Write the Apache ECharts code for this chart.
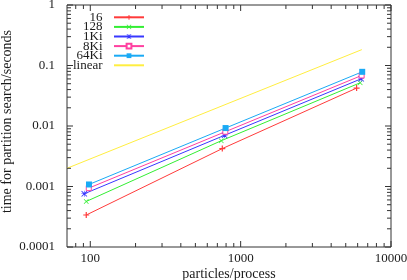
<!DOCTYPE html>
<html><head><meta charset="utf-8">
<script src="https://cdn.jsdelivr.net/npm/echarts@6/dist/echarts.min.js"></script>
<style>html,body{margin:0;padding:0;background:#fff}#c{width:407px;height:280px}</style>
</head><body><div id="c"></div>
<script>
const seriesNames = ['16', '128', '1Ki', '8Ki', '64Ki'];
const x16 = [94, 755, 5905];
const y16 = [0.000338, 0.00423, 0.0423];
const x128 = [94, 743, 6237];
const y128 = [0.000566, 0.00571, 0.0518];
const x1Ki = [91.2, 782, 6339];
const y1Ki = [0.000758, 0.00702, 0.0603];
const x8Ki = [97.7, 791, 6378];
const y8Ki = [0.00094, 0.00804, 0.0684];
const x64Ki = [98, 794, 6435];
const y64Ki = [0.00108, 0.00925, 0.0786];
const linearName = 'linear';
const linearX = [70, 6400];
const linearY = [0.002, 0.183];

const xMajorTicks = [100, 1000, 10000];
const xTickLabels = ['100', '1000', '10000'];
const xMinorTicks = [80, 90, 200, 300, 400, 500, 600, 700, 800, 900, 2000, 3000, 4000, 5000, 6000, 7000, 8000, 9000];
const yMajorTicks = [0.0001, 0.001, 0.01, 0.1, 1];
const yTickLabels = ['0.0001', '0.001', '0.01', '0.1', '1'];
const yMinorTicks = [0.0002, 0.0003, 0.0004, 0.0005, 0.0006, 0.0007, 0.0008, 0.0009,
  0.002, 0.003, 0.004, 0.005, 0.006, 0.007, 0.008, 0.009,
  0.02, 0.03, 0.04, 0.05, 0.06, 0.07, 0.08, 0.09,
  0.2, 0.3, 0.4, 0.5, 0.6, 0.7, 0.8, 0.9];

const xs = [x16, x128, x1Ki, x8Ki, x64Ki];
const ys = [y16, y128, y1Ki, y8Ki, y64Ki];
const colors = ['#ff3b3b', '#33ee33', '#3838ff', '#ff40a0', '#1aaaf5'];
const linearColor = '#ffee40';

const plusPath = 'path://M4,0H6V4H10V6H6V10H4V6H0V4H4Z';
const crossPath = 'path://M1,0L5,4L9,0L10,1L6,5L10,9L9,10L5,6L1,10L0,9L4,5L0,1Z';
const starPath = 'path://M4.5,0H5.5V10H4.5Z M0,4.5H10V5.5H0Z M1,0L10,9L9,10L0,1Z M9,0L10,1L1,10L0,9Z';
const symbols = [plusPath, crossPath, starPath, 'rect', 'rect'];
const symbolSizes = [6, 5, 6, 5, 6];

const FONT = 'Liberation Serif';
const TXT = '#1a1a1a';
const LINE = '#333333';
const MAJOR_LEN = 6, MINOR_LEN = 4;

function pair(xa, ya) { return xa.map((v, i) => [v, ya[i]]); }
function lg(a) { return a.map(v => Math.log10(v)); }
function fmt(ticks, labels) {
  const lt = lg(ticks);
  return function (v) {
    for (let i = 0; i < lt.length; i++) {
      if (Math.abs(lt[i] - v) < 1e-6) return labels[i];
    }
    return '';
  };
}

const xMin = 70, xMax = 10000, yMin = 0.0001, yMax = 1;

// data axes (log scale), invisible
const xData = { type: 'log', min: xMin, max: xMax, show: false };
const yData = { type: 'log', min: yMin, max: yMax, show: false };

// label-only axes in exponent space
const xLab = {
  type: 'value', min: Math.log10(xMin), max: Math.log10(xMax), position: 'bottom',
  axisLine: { show: false, onZero: false }, axisTick: { show: false }, splitLine: { show: false },
  axisLabel: { show: true, customValues: lg(xMajorTicks), formatter: fmt(xMajorTicks, xTickLabels),
    fontFamily: FONT, fontSize: 13, color: TXT, margin: 5 },
  name: 'particles/process', nameLocation: 'middle', nameGap: 20, nameMoveOverlap: false,
  nameTextStyle: { fontFamily: FONT, fontSize: 14, color: TXT }
};
const yLab = {
  type: 'value', min: Math.log10(yMin), max: Math.log10(yMax), position: 'left',
  axisLine: { show: false, onZero: false }, axisTick: { show: false }, splitLine: { show: false },
  axisLabel: { show: true, customValues: lg(yMajorTicks), formatter: fmt(yMajorTicks, yTickLabels),
    fontFamily: FONT, fontSize: 13, color: TXT, margin: 12 },
  name: 'time for partition search/seconds', nameLocation: 'middle', nameGap: 53, nameMoveOverlap: false,
  nameTextStyle: { fontFamily: FONT, fontSize: 14, color: TXT, padding: [0, 0, 0, 9] }
};

const series = seriesNames.map((n, i) => ({
  name: n, type: 'line', xAxisIndex: 0, yAxisIndex: 0,
  data: pair(xs[i], ys[i]),
  symbol: symbols[i], symbolSize: symbolSizes[i],
  color: colors[i],
  lineStyle: { color: colors[i], width: 1 },
  itemStyle: i === 3 ? { color: '#ffffff', borderColor: colors[i], borderWidth: 1 } : { color: colors[i] },
  animation: false, silent: true, z: 3
}));
series.push({
  name: linearName, type: 'line', xAxisIndex: 0, yAxisIndex: 0,
  data: pair(linearX, linearY), symbol: 'none', color: linearColor,
  lineStyle: { color: linearColor, width: 1 }, animation: false, silent: true, z: 3
});

// inside, mirrored tick marks: thin rect symbols of invisible-line series placed through the log axes
function tickSeries(points, size, offset) {
  return {
    type: 'line', xAxisIndex: 0, yAxisIndex: 0, data: points,
    symbol: 'rect', symbolSize: size, symbolOffset: offset, showSymbol: true, showAllSymbol: true,
    lineStyle: { width: 0, opacity: 0 }, itemStyle: { color: LINE, borderWidth: 0 },
    clip: false, silent: true, animation: false, z: 4, legendHoverLink: false
  };
}
series.push(tickSeries(xMajorTicks.map(v => [v, yMin]), [1, MAJOR_LEN], [0, -MAJOR_LEN / 2]));
series.push(tickSeries(xMinorTicks.map(v => [v, yMin]), [1, MINOR_LEN], [0, -MINOR_LEN / 2]));
series.push(tickSeries(xMajorTicks.map(v => [v, yMax]), [1, MAJOR_LEN], [0, MAJOR_LEN / 2]));
series.push(tickSeries(xMinorTicks.map(v => [v, yMax]), [1, MINOR_LEN], [0, MINOR_LEN / 2]));
series.push(tickSeries(yMajorTicks.map(v => [xMin, v]), [MAJOR_LEN, 1], [MAJOR_LEN / 2, 0]));
series.push(tickSeries(yMinorTicks.map(v => [xMin, v]), [MINOR_LEN, 1], [MINOR_LEN / 2, 0]));
series.push(tickSeries(yMajorTicks.map(v => [xMax, v]), [MAJOR_LEN, 1], [-MAJOR_LEN / 2, 0]));
series.push(tickSeries(yMinorTicks.map(v => [xMax, v]), [MINOR_LEN, 1], [-MINOR_LEN / 2, 0]));

const legendData = seriesNames.map(n => ({ name: n }));
legendData.push({ name: linearName, itemStyle: { opacity: 0 } });

const chart = echarts.init(document.getElementById('c'), null, { renderer: 'canvas' });
chart.setOption({
  backgroundColor: '#ffffff',
  animation: false,
  grid: { left: 67, right: 16, top: 5, bottom: 33, containLabel: false, outerBoundsMode: 'none',
    show: true, borderColor: LINE, borderWidth: 1, backgroundColor: 'transparent' },
  xAxis: [xData, xLab],
  yAxis: [yData, yLab],
  legend: {
    orient: 'vertical', right: 262, top: 10.8, align: 'right', padding: 0,
    itemWidth: 30, itemHeight: 6, itemGap: -3.4,
    data: legendData,
    formatter: n => n + '\u00a0\u00a0',
    textStyle: { fontFamily: FONT, fontSize: 13, color: TXT, lineHeight: 10 },
    selectedMode: false
  },
  series: series
});
</script></body></html>
